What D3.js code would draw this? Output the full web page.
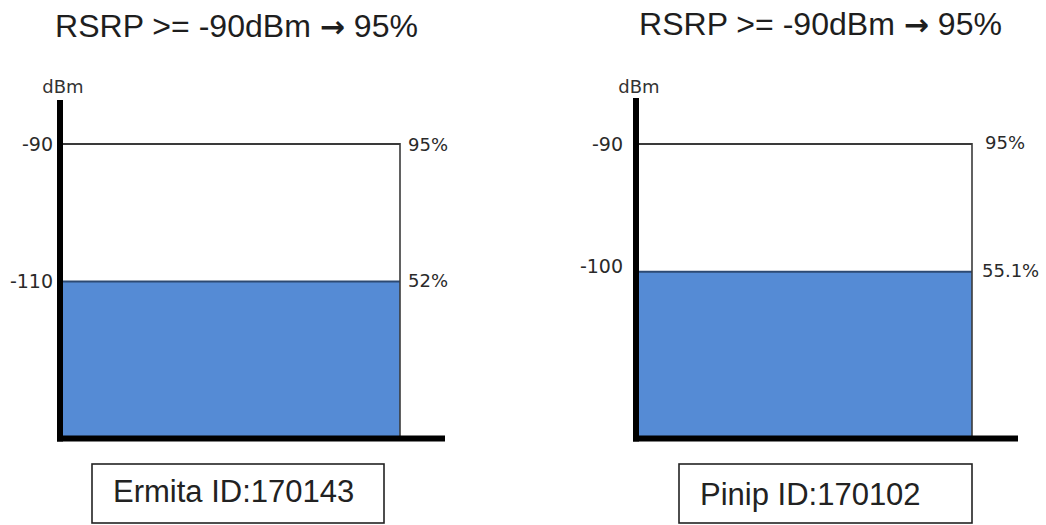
<!DOCTYPE html>
<html>
<head>
<meta charset="utf-8">
<script src="https://cdn.jsdelivr.net/npm/d3@7"></script>
<style>
  html, body { margin: 0; padding: 0; background: #fff; }
  svg { display: block; }
</style>
</head>
<body>
<svg id="chart" width="1046" height="525"></svg>
<script>
// ---- data ----
const titleLeft = ["RSRP >= -90dBm ", "RSRP >= -90dBm "];
const titleArrow = "\u2192";
const titleRight = [" 95%", " 95%"];
const sites = ["Ermita ID:170143", "Pinip ID:170102"];
const targetDbm = [-90, -90];
const targetPct = [95, 95];
const measuredDbm = [-110, -100];
const measuredPct = [52, 55.1];
const unitLabel = "dBm";

// ---- layout (per panel) ----
const panels = sites.map((s, i) => ({
  site: s, t1: titleLeft[i], t2: titleRight[i],
  tDbm: targetDbm[i], tPct: targetPct[i],
  mDbm: measuredDbm[i], mPct: measuredPct[i]
}));
const axisX = [60, 636];
const rightX = [400, 972];
const axisEnd = [445, 1018];
const axisTop = [100, 98];
const titleX = [55, 639];
const titleY = [37, 35];
const boxL = [92, 679], boxR = [384, 972];
const labelX = [113, 700], labelY = [502, 505];
const baseY = 438.5;

const y = d3.scaleLinear().domain([0, 100]).range([448, 128]);

const svg = d3.select("#chart");
const fontSmall = "'DejaVu Sans', Verdana, sans-serif";
const fontBig = "'Liberation Sans', Arial, sans-serif";

panels.forEach((p, i) => {
  const g = svg.append("g");
  const x = d3.scaleLinear().domain([0, 1]).range([axisX[i] + 3, rightX[i]]);

  // title
  const t = g.append("text")
    .attr("x", titleX[i]).attr("y", titleY[i])
    .attr("font-family", fontBig).attr("font-size", 32)
    .attr("fill", "#1e1e1e")
    .attr("textLength", 363).attr("lengthAdjust", "spacingAndGlyphs");
  t.append("tspan").text(p.t1);
  t.append("tspan")
    .attr("font-family", fontSmall).attr("font-weight", "bold")
    .attr("font-size", 30)
    .text(titleArrow);
  t.append("tspan").text(p.t2);

  // measured bar
  g.append("rect")
    .attr("x", x(0)).attr("y", y(p.mPct))
    .attr("width", x(1) - x(0)).attr("height", baseY - y(p.mPct))
    .attr("fill", "#558bd5");
  g.append("line")
    .attr("x1", x(0)).attr("x2", x(1))
    .attr("y1", y(p.mPct)).attr("y2", y(p.mPct))
    .attr("stroke", "#2d4a73").attr("stroke-width", 2);

  // target line and right border
  g.append("line")
    .attr("x1", x(0)).attr("x2", x(1))
    .attr("y1", y(p.tPct)).attr("y2", y(p.tPct))
    .attr("stroke", "#3a3a3a").attr("stroke-width", 2);
  g.append("line")
    .attr("x1", x(1)).attr("x2", x(1))
    .attr("y1", y(p.tPct) - 1).attr("y2", baseY)
    .attr("stroke", "#3a3a3a").attr("stroke-width", 1.6);

  // axes
  g.append("line")
    .attr("x1", axisX[i]).attr("x2", axisX[i])
    .attr("y1", axisTop[i]).attr("y2", baseY + 3)
    .attr("stroke", "#000").attr("stroke-width", 6);
  g.append("line")
    .attr("x1", axisX[i] - 3).attr("x2", axisEnd[i])
    .attr("y1", baseY).attr("y2", baseY)
    .attr("stroke", "#000").attr("stroke-width", 6);

  // unit label
  g.append("text")
    .attr("x", axisX[i] + 3).attr("y", 93)
    .attr("text-anchor", "middle")
    .attr("font-family", fontSmall).attr("font-size", 18)
    .attr("fill", "#333")
    .text(unitLabel);

  // dBm tick labels (left)
  const gap = i === 0 ? 7 : 13;
  [[p.tDbm, p.tPct], [p.mDbm, p.mPct]].forEach(([d, pc], k) => {
    g.append("text")
      .attr("x", axisX[i] - gap).attr("y", y(pc) + (k === 1 && i === 1 ? -4 : 1))
      .attr("text-anchor", "end").attr("dominant-baseline", "middle")
      .attr("font-family", fontSmall).attr("font-size", 19)
      .attr("fill", "#2a2a2a")
      .text(d);
  });

  // percent labels (right)
  [p.tPct, p.mPct].forEach((pc, k) => {
    g.append("text")
      .attr("x", x(1) + (i === 0 ? 8 : (k === 0 ? 13 : 10))).attr("y", y(pc) + (k === 0 && i === 0 ? 2 : 0))
      .attr("dominant-baseline", "middle")
      .attr("font-family", fontSmall).attr("font-size", 18)
      .attr("fill", "#2a2a2a")
      .text(pc + "%");
  });

  // site label box
  g.append("rect")
    .attr("x", boxL[i]).attr("y", 464)
    .attr("width", boxR[i] - boxL[i]).attr("height", 59)
    .attr("fill", "#fff").attr("stroke", "#222").attr("stroke-width", 1.6);
  g.append("text")
    .attr("x", labelX[i]).attr("y", labelY[i])
    .attr("font-family", fontBig).attr("font-size", 31)
    .attr("fill", "#222")
    .text(p.site);
});
</script>
</body>
</html>
